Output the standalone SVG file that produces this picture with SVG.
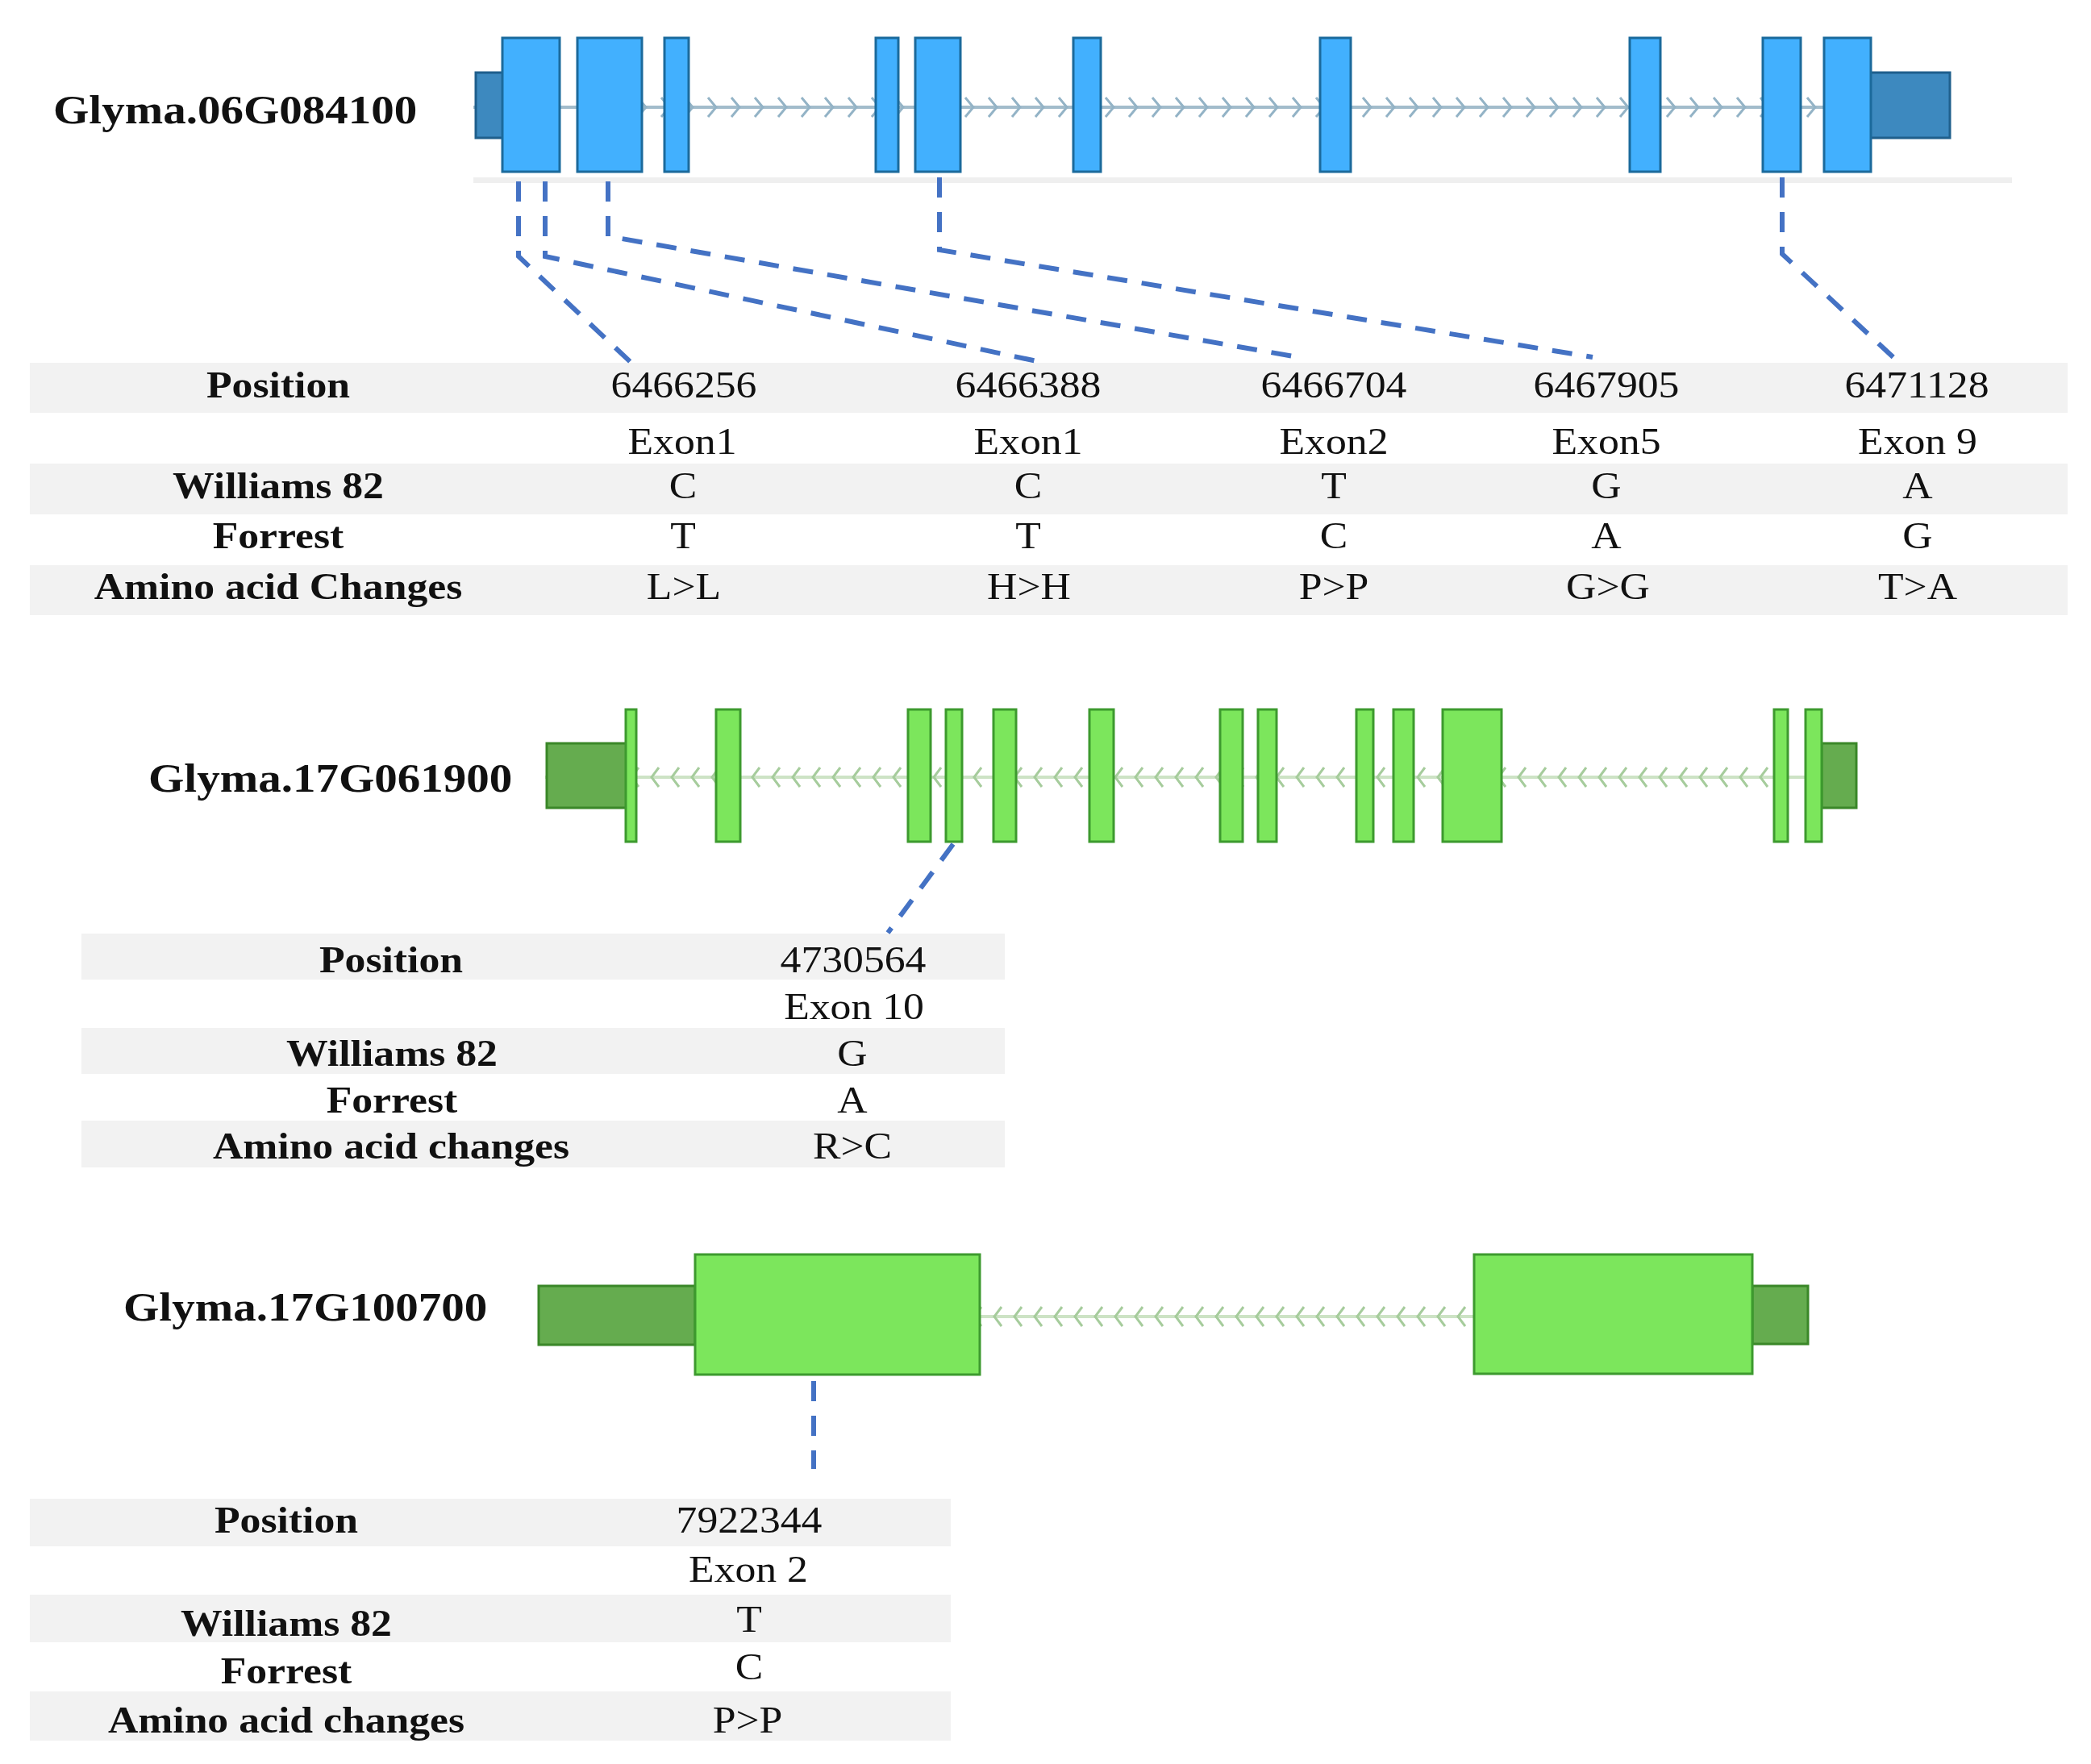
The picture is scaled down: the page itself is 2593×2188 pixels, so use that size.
<svg xmlns="http://www.w3.org/2000/svg" width="2593" height="2188" viewBox="0 0 2593 2188">
<style>
.t{font-family:"Liberation Serif","Times New Roman",serif;font-size:47px;fill:#111;text-anchor:middle}
.b{font-weight:bold}
.g{font-family:"Liberation Serif","Times New Roman",serif;font-size:50px;font-weight:bold;fill:#111;text-anchor:start}
.row{fill:#f2f2f2}
.bx{fill:#42b0fe;stroke:#1b6a9c;stroke-width:3}
.bu{fill:#3d89bf;stroke:#1f5f8c;stroke-width:3}
.gx{fill:#7ce65c;stroke:#3d9a2e;stroke-width:3}
.gu{fill:#65ac4f;stroke:#3a8728;stroke-width:3}
.bi{stroke:#a2bccb;stroke-width:4}
.gi{stroke:#cde3c5;stroke-width:4}
.cn{fill:none;stroke:#4472c4;stroke-width:6;stroke-dasharray:25 18}
</style>
<defs>
<pattern id="chevR" patternUnits="userSpaceOnUse" x="0" y="120" width="29" height="26">
<path d="M8 1 L18 13 L8 25" fill="none" stroke="#93b3c6" stroke-width="3"/>
</pattern>
<pattern id="chevL" patternUnits="userSpaceOnUse" x="0" y="951" width="25" height="26">
<path d="M17 1 L8 13 L17 25" fill="none" stroke="#a6cc9c" stroke-width="3"/>
</pattern>
<pattern id="chevL3" patternUnits="userSpaceOnUse" x="0" y="1620" width="25" height="26">
<path d="M17 1 L8 13 L17 25" fill="none" stroke="#a6cc9c" stroke-width="3"/>
</pattern>
</defs>
<rect width="2593" height="2188" fill="#fff"/>

<!-- Gene 1 -->
<g id="gene-Glyma06G084100">
<text class="g" transform="translate(66 153) scale(1.14 1)">Glyma.06G084100</text>
<rect x="587" y="220" width="1908" height="7" fill="#efefef"/>
<line class="bi" x1="587" y1="133" x2="2418" y2="133"/>
<rect x="796" y="120" width="1466" height="26" fill="url(#chevR)"/>
<rect class="bu" x="590" y="90" width="34" height="81"/>
<rect class="bu" x="2319" y="90" width="99" height="81"/>
<rect class="bx" x="623" y="47" width="71" height="166"/>
<rect class="bx" x="716" y="47" width="80" height="166"/>
<rect class="bx" x="824" y="47" width="30" height="166"/>
<rect class="bx" x="1086" y="47" width="28" height="166"/>
<rect class="bx" x="1135" y="47" width="56" height="166"/>
<rect class="bx" x="1331" y="47" width="34" height="166"/>
<rect class="bx" x="1637" y="47" width="38" height="166"/>
<rect class="bx" x="2021" y="47" width="38" height="166"/>
<rect class="bx" x="2186" y="47" width="47" height="166"/>
<rect class="bx" x="2262" y="47" width="58" height="166"/>
</g>

<!-- Table 1 -->
<g id="table-1">
<rect class="row" x="37" y="450" width="2527" height="62"/>
<rect class="row" x="37" y="575" width="2527" height="63"/>
<rect class="row" x="37" y="701" width="2527" height="62"/>
<text class="t b" transform="translate(345 493) scale(1.1 1)">Position</text>
<text class="t b" transform="translate(345 618) scale(1.1 1)">Williams 82</text>
<text class="t b" transform="translate(345 680) scale(1.1 1)">Forrest</text>
<text class="t b" transform="translate(345 743) scale(1.1 1)">Amino acid Changes</text>
<text class="t" transform="translate(848 493) scale(1.1 1)">6466256</text>
<text class="t" transform="translate(846 563) scale(1.1 1)">Exon1</text>
<text class="t" transform="translate(847 618) scale(1.1 1)">C</text>
<text class="t" transform="translate(847 680) scale(1.1 1)">T</text>
<text class="t" transform="translate(848 743) scale(1.1 1)">L&gt;L</text>
<text class="t" transform="translate(1275 493) scale(1.1 1)">6466388</text>
<text class="t" transform="translate(1275 563) scale(1.1 1)">Exon1</text>
<text class="t" transform="translate(1275 618) scale(1.1 1)">C</text>
<text class="t" transform="translate(1275 680) scale(1.1 1)">T</text>
<text class="t" transform="translate(1276 743) scale(1.1 1)">H&gt;H</text>
<text class="t" transform="translate(1654 493) scale(1.1 1)">6466704</text>
<text class="t" transform="translate(1654 563) scale(1.1 1)">Exon2</text>
<text class="t" transform="translate(1654 618) scale(1.1 1)">T</text>
<text class="t" transform="translate(1654 680) scale(1.1 1)">C</text>
<text class="t" transform="translate(1654 743) scale(1.1 1)">P&gt;P</text>
<text class="t" transform="translate(1992 493) scale(1.1 1)">6467905</text>
<text class="t" transform="translate(1992 563) scale(1.1 1)">Exon5</text>
<text class="t" transform="translate(1992 618) scale(1.1 1)">G</text>
<text class="t" transform="translate(1992 680) scale(1.1 1)">A</text>
<text class="t" transform="translate(1994 743) scale(1.1 1)">G&gt;G</text>
<text class="t" transform="translate(2377 493) scale(1.1 1)">6471128</text>
<text class="t" transform="translate(2378 563) scale(1.1 1)">Exon 9</text>
<text class="t" transform="translate(2378 618) scale(1.1 1)">A</text>
<text class="t" transform="translate(2378 680) scale(1.1 1)">G</text>
<text class="t" transform="translate(2378 743) scale(1.1 1)">T&gt;A</text>
</g>

<!-- Gene 2 -->
<g id="gene-Glyma17G061900">
<text class="g" transform="translate(184 982) scale(1.14 1)">Glyma.17G061900</text>
<line class="gi" x1="676" y1="964" x2="2302" y2="964"/>
<rect x="789" y="951" width="1411" height="26" fill="url(#chevL)"/>
<rect class="gu" x="678" y="922" width="99" height="80"/>
<rect class="gu" x="2259" y="922" width="43" height="80"/>
<rect class="gx" x="776" y="880" width="13" height="164"/>
<rect class="gx" x="888" y="880" width="30" height="164"/>
<rect class="gx" x="1126" y="880" width="28" height="164"/>
<rect class="gx" x="1173" y="880" width="20" height="164"/>
<rect class="gx" x="1232" y="880" width="28" height="164"/>
<rect class="gx" x="1351" y="880" width="30" height="164"/>
<rect class="gx" x="1513" y="880" width="28" height="164"/>
<rect class="gx" x="1560" y="880" width="23" height="164"/>
<rect class="gx" x="1682" y="880" width="21" height="164"/>
<rect class="gx" x="1728" y="880" width="25" height="164"/>
<rect class="gx" x="1789" y="880" width="73" height="164"/>
<rect class="gx" x="2200" y="880" width="17" height="164"/>
<rect class="gx" x="2239" y="880" width="20" height="164"/>
</g>

<!-- Table 2 -->
<g id="table-2">
<rect class="row" x="101" y="1158" width="1145" height="57"/>
<rect class="row" x="101" y="1275" width="1145" height="57"/>
<rect class="row" x="101" y="1390" width="1145" height="58"/>
<text class="t b" transform="translate(485 1206) scale(1.1 1)">Position</text>
<text class="t b" transform="translate(486 1322) scale(1.1 1)">Williams 82</text>
<text class="t b" transform="translate(486 1380) scale(1.1 1)">Forrest</text>
<text class="t b" transform="translate(485 1437) scale(1.1 1)">Amino acid changes</text>
<text class="t" transform="translate(1058 1206) scale(1.1 1)">4730564</text>
<text class="t" transform="translate(1059 1264) scale(1.1 1)">Exon 10</text>
<text class="t" transform="translate(1057 1322) scale(1.1 1)">G</text>
<text class="t" transform="translate(1057 1380) scale(1.1 1)">A</text>
<text class="t" transform="translate(1057 1437) scale(1.1 1)">R&gt;C</text>
</g>

<!-- Gene 3 -->
<g id="gene-Glyma17G100700">
<text class="g" transform="translate(153 1638) scale(1.14 1)">Glyma.17G100700</text>
<line class="gi" x1="1215" y1="1633" x2="1828" y2="1633"/>
<rect x="1215" y="1620" width="613" height="26" fill="url(#chevL3)"/>
<rect class="gu" x="668" y="1595" width="194" height="73"/>
<rect class="gu" x="2173" y="1595" width="69" height="72"/>
<rect class="gx" x="862" y="1556" width="353" height="149"/>
<rect class="gx" x="1828" y="1556" width="345" height="148"/>
</g>

<!-- Table 3 -->
<g id="table-3">
<rect class="row" x="37" y="1859" width="1142" height="59"/>
<rect class="row" x="37" y="1978" width="1142" height="59"/>
<rect class="row" x="37" y="2098" width="1142" height="61"/>
<text class="t b" transform="translate(355 1901) scale(1.1 1)">Position</text>
<text class="t b" transform="translate(355 2029) scale(1.1 1)">Williams 82</text>
<text class="t b" transform="translate(355 2088) scale(1.1 1)">Forrest</text>
<text class="t b" transform="translate(355 2149) scale(1.1 1)">Amino acid changes</text>
<text class="t" transform="translate(929 1901) scale(1.1 1)">7922344</text>
<text class="t" transform="translate(928 1962) scale(1.1 1)">Exon 2</text>
<text class="t" transform="translate(929 2024) scale(1.1 1)">T</text>
<text class="t" transform="translate(929 2083) scale(1.1 1)">C</text>
<text class="t" transform="translate(927 2149) scale(1.1 1)">P&gt;P</text>
</g>

<!-- Connectors -->
<g id="connectors">
<path class="cn" d="M643 225 V318 L785 452"/>
<path class="cn" d="M676 225 V318 L1295 450"/>
<path class="cn" d="M754 225 V293 L1610 443"/>
<path class="cn" d="M1165 220 V310 L1975 443"/>
<path class="cn" d="M2210 220 V315 L2352 447"/>
<path class="cn" d="M1182 1047 L1101 1157"/>
<path class="cn" d="M1009 1713 V1822"/>
</g>
</svg>
